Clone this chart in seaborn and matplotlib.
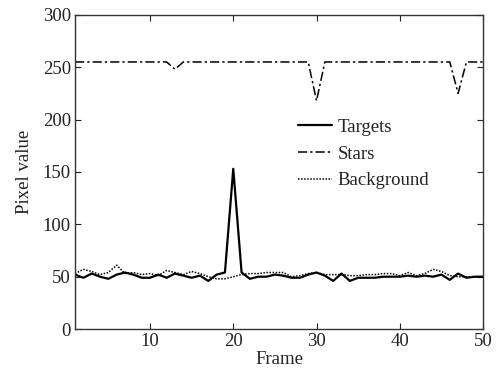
import numpy as np
import pandas as pd
import matplotlib
matplotlib.use("Agg")
import matplotlib.pyplot as plt
import seaborn as sns

frames = list(range(1, 51))
targets = [52, 49, 53, 50, 48, 52, 54, 52, 49, 49,
           52, 49, 53, 51, 49, 51, 46, 52, 54, 153,
           54, 48, 50, 50, 52, 51, 49, 49, 52, 54,
           51, 46, 53, 46, 49, 49, 49, 50, 50, 50,
           51, 50, 51, 50, 52, 47, 53, 49, 50, 50]
stars = [255] * 12 + [248] + [255] * 16 + [218] + [255] * 16 + [225] + [255] * 3
background = [53, 57, 55, 52, 54, 61, 53, 54, 52, 53,
              51, 56, 54, 52, 55, 53, 50, 48, 48, 50,
              52, 53, 53, 54, 54, 54, 50, 51, 53, 54,
              52, 52, 52, 51, 51, 52, 52, 53, 53, 51,
              54, 51, 53, 57, 55, 51, 50, 50, 50, 50]

sns.set_theme(style="white")
plt.rcParams['font.family'] = ['Liberation Serif', 'DejaVu Serif']

FS = 13.5
fig = plt.figure(figsize=(4.97, 3.71), dpi=100)
ax = fig.add_axes([0.151, 0.113, 0.821, 0.847])

sns.lineplot(x=frames, y=targets, ax=ax, color='black', lw=1.6, label='Targets')
sns.lineplot(x=frames, y=stars, ax=ax, color='black', lw=1.1, label='Stars')
sns.lineplot(x=frames, y=background, ax=ax, color='black', lw=1.1, label='Background')
ax.lines[1].set_linestyle((0, (6, 2, 1.5, 2)))
ax.lines[2].set_linestyle((0, (1, 1)))

ax.set_xlim(1, 50)
ax.set_ylim(0, 300)
ax.set_xticks([10, 20, 30, 40, 50])
ax.set_yticks([0, 50, 100, 150, 200, 250, 300])
ax.tick_params(direction='in', length=4, width=0.8, labelsize=FS, colors='#222222',
               top=True, right=True, bottom=True, left=True, pad=3)
for s in ax.spines.values():
    s.set_color('#333333')
    s.set_linewidth(1.0)
ax.set_xlabel('Frame', fontsize=FS, labelpad=0.5, color='#222222')
ax.set_ylabel('Pixel value', fontsize=FS, labelpad=7, color='#222222')

leg = ax.legend(loc='upper left', bbox_to_anchor=(0.547, 0.67), frameon=False,
                fontsize=FS, handlelength=1.8, handletextpad=0.3,
                labelspacing=0.52, borderaxespad=0, borderpad=0)
for t in leg.get_texts():
    t.set_color('#222222')

fig.savefig('out.png', dpi=100)
